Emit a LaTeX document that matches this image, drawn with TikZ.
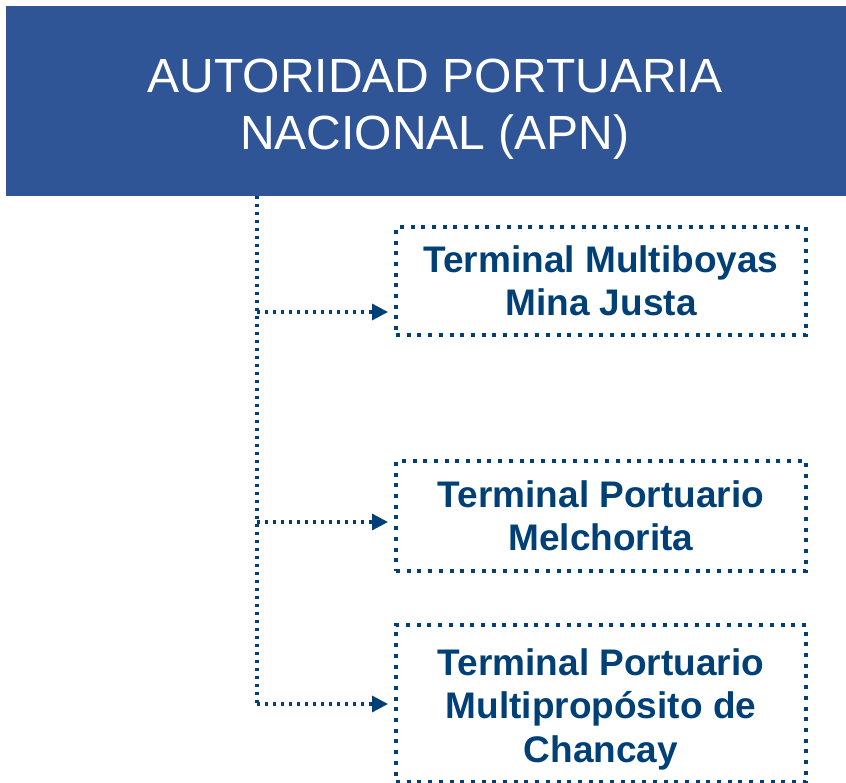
\documentclass[tikz,border=0pt]{standalone}
\usepackage{fontspec}
\setmainfont{Liberation Sans}
\usetikzlibrary{arrows.meta}
\definecolor{apnblue}{HTML}{2F5597}
\definecolor{dkblue}{HTML}{004077}
\tikzset{
  headbox/.style={fill=apnblue, draw=none, inner sep=0pt,
    minimum width=840pt, minimum height=190pt},
  headtext/.style={text=white, inner sep=0pt, align=center,
    font=\fontsize{48}{57}\selectfont},
  termbox/.style={draw=dkblue, line width=4pt, dash pattern=on 4pt off 6.7pt,
    text=dkblue, inner sep=0pt, minimum width=410pt, align=center,
    font=\bfseries\fontsize{37}{43.5}\selectfont},
  termtext/.style={text=dkblue, inner sep=0pt, align=center,
    font=\bfseries\fontsize{37}{43.5}\selectfont},
  dotline/.style={draw=dkblue, line width=3.2pt, dash pattern=on 3.2pt off 4.8pt},
  dotarrow/.style={dotline, -{Triangle[length=16pt,width=16pt]}, shorten >=6pt}
}
\begin{document}
\begin{tikzpicture}[x=1pt,y=-1pt]
\useasboundingbox (0,0) rectangle (846,783);
\node[headbox] (apn) at (426,101) {};
\node[headtext] (apntitle) at (435,109) {AUTORIDAD PORTUARIA\\NACIONAL (APN)};
\node[termbox, minimum height=108pt] (b1) at (601,281) {Terminal Multiboyas\\Mina Justa};
\node[termbox, minimum height=110pt] (b2) at (601,516) {Terminal Portuario\\Melchorita};
\node[termbox, minimum height=157pt] (b3) at (601,703.5) {};
\node[termtext] (b3text) at (601,709) {Terminal Portuario\\Multipropósito de\\Chancay};
\coordinate (top) at (257,196);
\coordinate (j1) at (257,312);
\coordinate (j2) at (257,522);
\coordinate (j3) at (257,704);
\draw[dotline] (top) -- (j3);
\draw[dotarrow] (j1) -- (j1 -| b1.west);
\draw[dotarrow] (j2) -- (j2 -| b2.west);
\draw[dotarrow] (j3) -- (j3 -| b3.west);
\end{tikzpicture}
\end{document}
